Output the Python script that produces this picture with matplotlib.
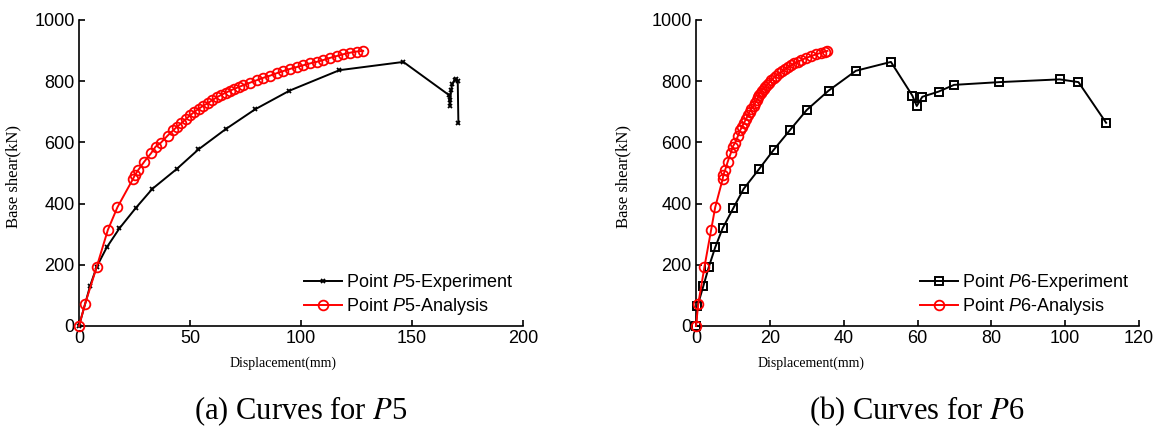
import matplotlib
matplotlib.use("Agg")
import matplotlib.pyplot as plt

# --- data ---
# experimental base shear (kN), same load levels for P5 and P6
exp_shear_p5 = [0, 131, 194, 257, 319, 385, 448, 513, 577, 643, 708, 769, 836, 863,
                755, 720, 740, 770, 790, 803, 807, 800, 662]
exp_disp_p5 = [0, 5.0, 8.0, 12.5, 18.2, 25.5, 33.0, 44.0, 53.8, 66.0, 79.3, 94.8, 117.3, 146.1,
               166.6, 167.1, 167.3, 167.6, 168.1, 169.2, 170.0, 170.6, 170.9]

exp_shear_p6 = [0, 65, 131, 194, 257, 319, 385, 448, 513, 575, 641, 706, 769, 834, 863,
                753, 719, 749, 766, 788, 797, 806, 797, 664]
exp_disp_p6 = [0, 0.4, 2.0, 3.5, 5.2, 7.2, 10.1, 12.9, 17.1, 21.0, 25.5, 30.0, 35.9, 43.3, 52.8,
               58.6, 59.8, 61.3, 65.7, 69.9, 82.2, 98.5, 103.6, 111.1]

# analysis base shear (kN), shared by both points
ana_shear = [0, 71, 194, 314, 388, 479, 493, 510, 537, 564, 586, 599, 622, 640, 650, 662,
             675, 688, 700, 710, 720, 728, 738, 747, 755, 762, 769, 775, 781, 787, 795, 803,
             811, 818, 826, 833, 840, 846, 852, 858, 863, 869, 876, 882, 888, 893, 897, 899]
ana_disp_p5 = [0, 2.7, 8.0, 13.0, 17.3, 24.2, 25.2, 26.7, 29.4, 32.4, 34.5, 36.9, 39.9, 42.5,
               44.0, 46.0, 48.0, 50.0, 52.0, 54.0, 56.0, 58.0, 60.0, 62.0, 64.0, 66.0, 68.0,
               70.0, 72.0, 74.0, 77.0, 80.0, 83.0, 86.0, 89.0, 92.0, 95.0, 98.0, 101.0, 104.0,
               107.0, 110.0, 113.0, 116.0, 119.0, 122.0, 125.0, 128.0]
ana_disp_p6 = [0, 0.6, 2.3, 4.1, 5.2, 7.2, 7.4, 7.9, 8.6, 9.4, 9.95, 10.6, 11.4, 12.0, 12.4,
               12.9, 13.5, 14.0, 14.5, 15.0, 15.6, 16.0, 16.4, 16.8, 17.0, 17.5, 17.9, 18.3,
               18.8, 19.2, 19.8, 20.4, 21.1, 21.8, 22.6, 23.4, 24.2, 25.0, 25.8, 26.6, 27.5,
               28.5, 29.8, 31.2, 32.6, 33.9, 35.0, 35.6]

x_ticks_p5 = [0, 50, 100, 150, 200]
x_ticks_p6 = [0, 20, 40, 60, 80, 100, 120]
y_ticks = [0, 200, 400, 600, 800, 1000]

plt.rcParams['font.family'] = ['Liberation Sans', 'DejaVu Sans']
plt.rcParams['mathtext.fontset'] = 'custom'
plt.rcParams['mathtext.rm'] = 'Liberation Sans'
plt.rcParams['mathtext.it'] = 'Liberation Sans:italic'

fig = plt.figure(figsize=(11.6, 4.3), dpi=100)
ax1 = fig.add_axes([79 / 1160, 1 - 326 / 430, 444 / 1160, 306 / 430])
ax2 = fig.add_axes([696 / 1160, 1 - 326 / 430, 443 / 1160, 306 / 430])


def style_axis(ax, xticks, xlabel_x, ylabel_x):
    ax.set_ylim(0, 1000)
    ax.set_xlim(xticks[0], xticks[-1])
    ax.set_xticks(xticks)
    ax.set_yticks(y_ticks)
    for s in ['top', 'right']:
        ax.spines[s].set_visible(False)
    for s in ['left', 'bottom']:
        ax.spines[s].set_linewidth(1.2)
    ax.tick_params(direction='in', length=4, width=1.2, labelsize=13, pad=3)
    ax.set_xlabel('Displacement(mm)', family='Liberation Serif', fontsize=10)
    ax.set_ylabel('Base shear(kN)', family='Liberation Serif', fontsize=12)
    ax.xaxis.set_label_coords(xlabel_x, -0.1)
    ax.yaxis.set_label_coords(ylabel_x, 0.49)


# (a) P5
ax1.plot(exp_disp_p5, exp_shear_p5, color='black', lw=1.4, marker='x', ms=3.5, mew=1.3,
         label='Point $\\mathit{P}$5-Experiment', clip_on=False, zorder=3)
ax1.plot(ana_disp_p5, ana_shear, color='red', lw=1.4, marker='o', ms=7, mfc='none', mew=1.3,
         label='Point $\\mathit{P}$5-Analysis', clip_on=False, zorder=4)
style_axis(ax1, x_ticks_p5, 0.46, -0.13)
ax1.legend(loc='lower right', bbox_to_anchor=(0.998, 0.0), frameon=False, fontsize=13,
           handlelength=2.1, handletextpad=0.25, labelspacing=0.15, borderpad=0)

# (b) P6
ax2.plot(exp_disp_p6, exp_shear_p6, color='black', lw=1.4, marker='s', ms=6, mfc='none',
         mew=1.4, label='Point $\\mathit{P}$6-Experiment', clip_on=False, zorder=3)
ax2.plot(ana_disp_p6, ana_shear, color='red', lw=1.4, marker='o', ms=7, mfc='none', mew=1.3,
         label='Point $\\mathit{P}$6-Analysis', clip_on=False, zorder=4)
style_axis(ax2, x_ticks_p6, 0.26, -0.145)
ax2.legend(loc='lower right', bbox_to_anchor=(0.998, 0.0), frameon=False, fontsize=13,
           handlelength=2.1, handletextpad=0.25, labelspacing=0.15, borderpad=0)

# captions under each panel
fig.text(301 / 1160, 1 - 411 / 430, '(a) Curves for $\\mathit{P}$5', ha='center', va='center',
         family='Liberation Serif', fontsize=22, math_fontfamily='stix')
fig.text(917 / 1160, 1 - 411 / 430, '(b) Curves for $\\mathit{P}$6', ha='center', va='center',
         family='Liberation Serif', fontsize=22, math_fontfamily='stix')

fig.savefig('out.png', dpi=100)
